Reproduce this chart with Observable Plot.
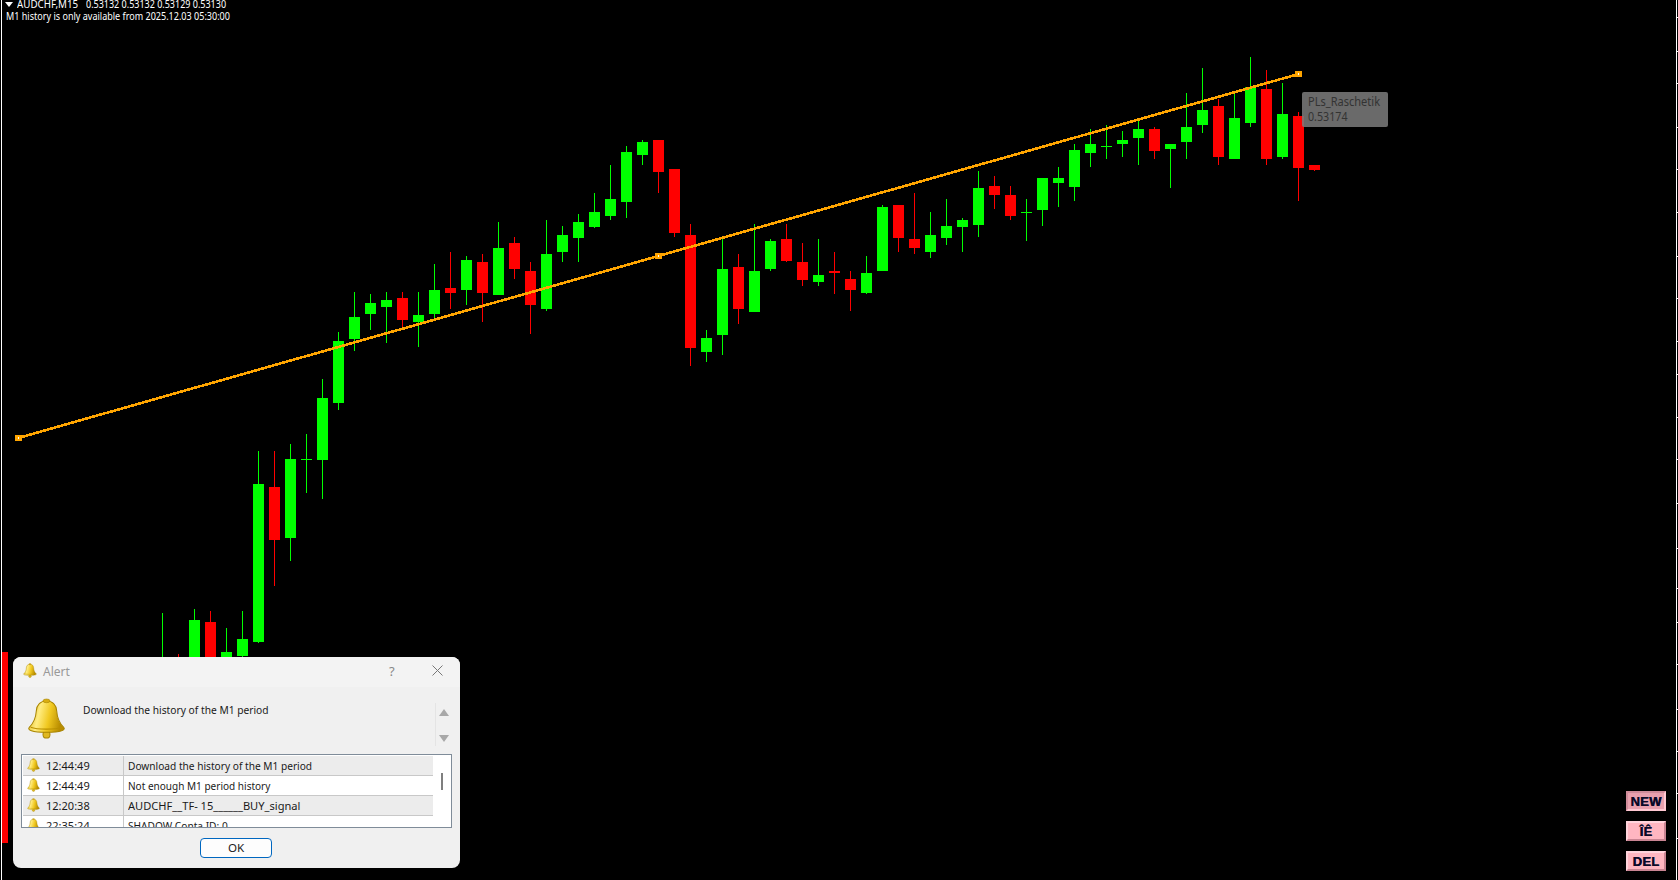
<!DOCTYPE html>
<html>
<head>
<meta charset="utf-8">
<script src="https://cdn.jsdelivr.net/npm/d3@7"></script>
<script src="https://cdn.jsdelivr.net/npm/@observablehq/plot@0.6"></script>
<style>
html,body{margin:0;padding:0;background:#000;width:1678px;height:880px;overflow:hidden}
#chart{position:absolute;left:0;top:0}
#chart svg{display:block}
.t{position:absolute;white-space:pre;font-family:"Noto Sans",sans-serif;transform-origin:0 50%}
#head1,#head1b,#head2{color:#fff;font-size:10.4px;line-height:12px}
#head1{left:17px;top:-2px;transform:scaleX(.94)}
#head1b{left:86px;top:-2px;transform:scaleX(.865)}
#head2{left:6px;top:10px;transform:scaleX(.87)}
#tri{position:absolute;left:5px;top:2px;width:0;height:0;border-left:4px solid transparent;border-right:4px solid transparent;border-top:5px solid #fff}
#tag{position:absolute;left:1302px;top:92px;width:86px;height:35px;border-radius:2px;background:rgba(124,124,124,.85)}
#tag div{position:absolute;left:6px;color:#333;font:12px/15px "Noto Sans",sans-serif;white-space:pre;transform-origin:0 50%}
#redbar{position:absolute;left:2px;top:652px;width:6px;height:191px;background:#f00}
.btn{position:absolute;left:1626px;width:40px;height:20px;box-sizing:border-box;background:#ffb6c1;color:#0a0a28;border-top:2px solid #ffd4dc;border-left:2px solid #ffd4dc;border-bottom:2px solid #c98492;border-right:2px solid #c98492;font:bold 13px/18px "Liberation Sans",sans-serif;text-align:center;letter-spacing:.3px;text-shadow:.4px 0 #0a0a28}
#new{background:#e8a0ae;border-color:#d08c9a #ffc8d2 #ffc8d2 #d08c9a}
#dlg{position:absolute;left:13px;top:657px;width:447px;height:211px;background:#f0f0f0;border-radius:8px;overflow:hidden;font-family:"Noto Sans",sans-serif;color:#1a1a1a;font-size:11.6px}
#dlg .t{line-height:16px}
#bar{position:absolute;left:0;top:0;width:447px;height:30px;background:#f3f3f3}
#list{position:absolute;left:8px;top:97px;width:429px;height:72px;border:1px solid #7f8c99;background:#fff;overflow:hidden}
.row{position:absolute;left:1px;width:410px;height:19px;border-bottom:1px solid #c8c8c8}
.row .sep{position:absolute;left:100px;top:0;width:1px;height:20px;background:#c8c8c8}
.row svg{position:absolute;left:4px;top:2px}
.row .tm{left:23px;top:2px;transform:scaleX(.95)}
.row .msg{left:105px;top:2px;transform:scaleX(.875)}
#thumb{position:absolute;left:419px;top:18px;width:2px;height:17px;background:#7f7f7f}
#ok{position:absolute;left:187px;top:181px;width:72px;height:20px;box-sizing:border-box;border:1px solid #0067c0;border-radius:4px;background:#fdfdfd;text-align:center;line-height:18px}
.arr{position:absolute;width:0;height:0;border-left:5px solid transparent;border-right:5px solid transparent}
</style>
</head>
<body>
<svg width="0" height="0" style="position:absolute">
<defs>
<linearGradient id="gold" x1="0" x2="1" y1="0" y2="0.2">
<stop offset="0" stop-color="#d9ad10"/><stop offset=".35" stop-color="#ffec80"/><stop offset=".65" stop-color="#f0c820"/><stop offset="1" stop-color="#b88c00"/>
</linearGradient>
<symbol id="bell" viewBox="0 0 38 40">
<ellipse cx="19" cy="35.5" rx="3.4" ry="3.6" fill="#e0b820" stroke="#a88400"/>
<path d="M19 3C12 3 9.5 7 9 13C8.5 21 6 25 2 29C.5 31 4 33.5 19 33.5C34 33.5 37.5 31 36 29C32 25 29.5 21 29 13C28.5 7 26 3 19 3Z" fill="url(#gold)" stroke="#a88400" stroke-width="1"/>
<path d="M3.5 28.5C10 31 28 31 34.5 28.5" fill="none" stroke="#b99000" stroke-width="1"/>
<ellipse cx="19" cy="2.8" rx="3.4" ry="1.8" fill="#d9ad10" stroke="#a88400" stroke-width=".6"/>
</symbol>
</defs>
</svg>
<div id="chart"></div>
<div id="tri"></div>
<div class="t" id="head1">AUDCHF,M15</div>
<div class="t" id="head1b">0.53132 0.53132 0.53129 0.53130</div>
<div class="t" id="head2">M1 history is only available from 2025.12.03 05:30:00</div>
<div id="tag"><div style="top:2px;transform:scaleX(.92)">PLs_Raschetik</div><div style="top:17px;transform:scaleX(.89)">0.53174</div></div>
<div id="redbar"></div>
<div class="btn" id="new" style="top:791px">NEW</div>
<div class="btn" style="top:821px">ÎÊ</div>
<div class="btn" style="top:851px">DEL</div>
<div id="dlg">
<div id="bar"></div>
<svg style="position:absolute;left:10px;top:6px" width="14" height="15"><use href="#bell"/></svg>
<div class="t" style="left:30px;top:7px;color:#999;font-size:12px">Alert</div>
<div class="t" style="left:376px;top:6px;color:#888;font-size:13px">?</div>
<svg style="position:absolute;left:419px;top:8px" width="11" height="11"><path d="M.5 .5L10.5 10.5M10.5 .5L.5 10.5" stroke="#777" fill="none"/></svg>
<svg style="position:absolute;left:14px;top:41px" width="39" height="41"><use href="#bell"/></svg>
<div class="t" style="left:70px;top:45px;transform:scaleX(.882)">Download the history of the M1 period</div>
<div style="position:absolute;left:422px;top:46px;width:1px;height:43px;background:#e4e4e4"></div>
<div class="arr" style="left:426px;top:52px;border-bottom:7px solid #a8a8a8"></div>
<div class="arr" style="left:426px;top:78px;border-top:7px solid #a8a8a8"></div>
<div id="list">
<div class="row" style="top:1px;background:#ececec"><svg width="13" height="14"><use href="#bell"/></svg><div class="sep"></div><div class="t tm">12:44:49</div><div class="t msg">Download the history of the M1 period</div></div>
<div class="row" style="top:21px;background:#fff"><svg width="13" height="14"><use href="#bell"/></svg><div class="sep"></div><div class="t tm">12:44:49</div><div class="t msg" style="transform:scaleX(.865)">Not enough M1 period history</div></div>
<div class="row" style="top:41px;background:#ececec"><svg width="13" height="14"><use href="#bell"/></svg><div class="sep"></div><div class="t tm">12:20:38</div><div class="t msg" style="transform:scaleX(.958)">AUDCHF__TF- 15______BUY_signal</div></div>
<div class="row" style="top:61px;background:#fff;border:0"><svg width="13" height="14"><use href="#bell"/></svg><div class="sep"></div><div class="t tm">22:35:24</div><div class="t msg">SHADOW Conta ID: 0</div></div>
<div id="thumb"></div>
</div>
<div id="ok">OK</div>
</div>
<script>
const symbol = "AUDCHF,M15";
const opens = [0.52884,0.52896,0.52884,0.52916,0.52893,0.52900,0.52907,0.52980,0.52956,0.52993,0.52993,0.53020,0.53050,0.53062,0.53065,0.53069,0.53058,0.53062,0.53074,0.53073,0.53086,0.53071,0.53095,0.53082,0.53064,0.53091,0.53098,0.53103,0.53108,0.53115,0.53137,0.53144,0.53130,0.53099,0.53044,0.53052,0.53084,0.53063,0.53083,0.53097,0.53086,0.53077,0.53082,0.53078,0.53072,0.53082,0.53113,0.53097,0.53091,0.53098,0.53103,0.53104,0.53122,0.53118,0.53110,0.53111,0.53124,0.53122,0.53138,0.53141,0.53142,0.53145,0.53149,0.53140,0.53143,0.53151,0.53160,0.53135,0.53152,0.53168,0.53136,0.53155,0.53132];
const highs = [0.52920,0.52901,0.52922,0.52921,0.52913,0.52921,0.52997,0.52997,0.53000,0.53005,0.53031,0.53053,0.53072,0.53071,0.53072,0.53072,0.53072,0.53085,0.53091,0.53089,0.53090,0.53105,0.53098,0.53086,0.53106,0.53103,0.53109,0.53119,0.53132,0.53141,0.53144,0.53144,0.53130,0.53104,0.53054,0.53097,0.53090,0.53104,0.53097,0.53104,0.53095,0.53097,0.53091,0.53082,0.53089,0.53113,0.53113,0.53119,0.53110,0.53116,0.53107,0.53129,0.53127,0.53122,0.53116,0.53126,0.53131,0.53142,0.53149,0.53151,0.53148,0.53153,0.53150,0.53142,0.53166,0.53178,0.53163,0.53166,0.53183,0.53177,0.53171,0.53157,0.53132];
const lows = [0.52879,0.52879,0.52879,0.52881,0.52889,0.52899,0.52906,0.52933,0.52945,0.52977,0.52974,0.53016,0.53044,0.53054,0.53048,0.53054,0.53046,0.53059,0.53064,0.53066,0.53058,0.53071,0.53078,0.53052,0.53063,0.53086,0.53086,0.53102,0.53106,0.53107,0.53132,0.53119,0.53098,0.53037,0.53039,0.53042,0.53057,0.53063,0.53082,0.53086,0.53075,0.53075,0.53071,0.53063,0.53071,0.53082,0.53091,0.53090,0.53088,0.53094,0.53091,0.53098,0.53111,0.53106,0.53096,0.53103,0.53112,0.53115,0.53131,0.53135,0.53136,0.53132,0.53135,0.53121,0.53135,0.53147,0.53132,0.53135,0.53150,0.53132,0.53135,0.53115,0.53129];
const closes = [0.52893,0.52886,0.52917,0.52889,0.52902,0.52908,0.52981,0.52955,0.52993,0.52993,0.53022,0.53049,0.53060,0.53067,0.53068,0.53059,0.53061,0.53073,0.53072,0.53087,0.53072,0.53093,0.53083,0.53066,0.53090,0.53099,0.53105,0.53110,0.53116,0.53138,0.53143,0.53129,0.53100,0.53046,0.53050,0.53083,0.53064,0.53082,0.53096,0.53087,0.53078,0.53080,0.53081,0.53073,0.53081,0.53112,0.53098,0.53093,0.53099,0.53103,0.53106,0.53121,0.53118,0.53108,0.53110,0.53126,0.53126,0.53139,0.53142,0.53141,0.53144,0.53149,0.53139,0.53142,0.53150,0.53158,0.53136,0.53154,0.53169,0.53135,0.53156,0.53131,0.53130];
const trendBars = [-9, 31, 71];
const trendPrices = [0.53003, 0.53089, 0.53175];
const axisTicks = [0.53202,0.53186,0.53171,0.53150,0.53130,0.53110,0.53089,0.53069,0.53049,0.53033,0.53013,0.52993,0.52972,0.52951,0.52932,0.52916,0.52896,0.52875,0.52855,0.52835,0.52814];

const bars = opens.map((o, i) => ({i, o, h: highs[i], l: lows[i], c: closes[i]}));
const color = d => d.c < d.o ? "#ff0000" : "#00ff00";
const halfBody = 5.5 / 16;
const bodies = bars.filter(d => d.o !== d.c);
const dojis = bars.filter(d => d.o === d.c);
const trend = trendBars.map((b, i) => ({b, p: trendPrices[i]}));
const crisp = {shapeRendering: "crispEdges"};
const nudge = {dx: -0.5, dy: -0.5};

const plot = Plot.plot({
  width: 1678, height: 880, margin: 0,
  style: {background: "#000", overflow: "hidden"},
  x: {domain: [-10.15625, 94.71875], range: [0, 1678], axis: null},
  y: {domain: [0.52794, 0.53210], range: [880, 0], axis: null},
  marks: [
    Plot.ruleX(bars, {x: "i", y1: "l", y2: "h", stroke: color, strokeWidth: 1, ...crisp, dx: -0.5}),
    Plot.rect(bodies, {x1: d => d.i - halfBody, x2: d => d.i + halfBody, y1: "o", y2: "c", fill: color, insetBottom: -0.6, ...crisp}),
    Plot.ruleY(dojis, {y: "o", x1: d => d.i - halfBody, x2: d => d.i + halfBody, stroke: color, strokeWidth: 1, ...crisp}),
    Plot.line(trend, {x: "b", y: "p", stroke: "#ffa500", strokeWidth: 2.6, ...crisp, ...nudge}),
    Plot.dot(trend, {x: "b", y: "p", symbol: "square", r: 3.4, fill: "#ffa500", ...crisp, ...nudge}),
    Plot.dot(trend, {x: "b", y: "p", symbol: "square", r: 1.1, fill: "#fff", ...crisp, ...nudge}),
    Plot.ruleX([-10.15625], {stroke: "#fff", dx: 1, ...crisp}),
    Plot.ruleX([94.71875], {stroke: "#fff", dx: -2, ...crisp}),
    Plot.tickY(axisTicks, {stroke: "#fff", insetLeft: 1676, ...crisp})
  ]
});
document.getElementById("chart").appendChild(plot);
</script>
</body>
</html>
